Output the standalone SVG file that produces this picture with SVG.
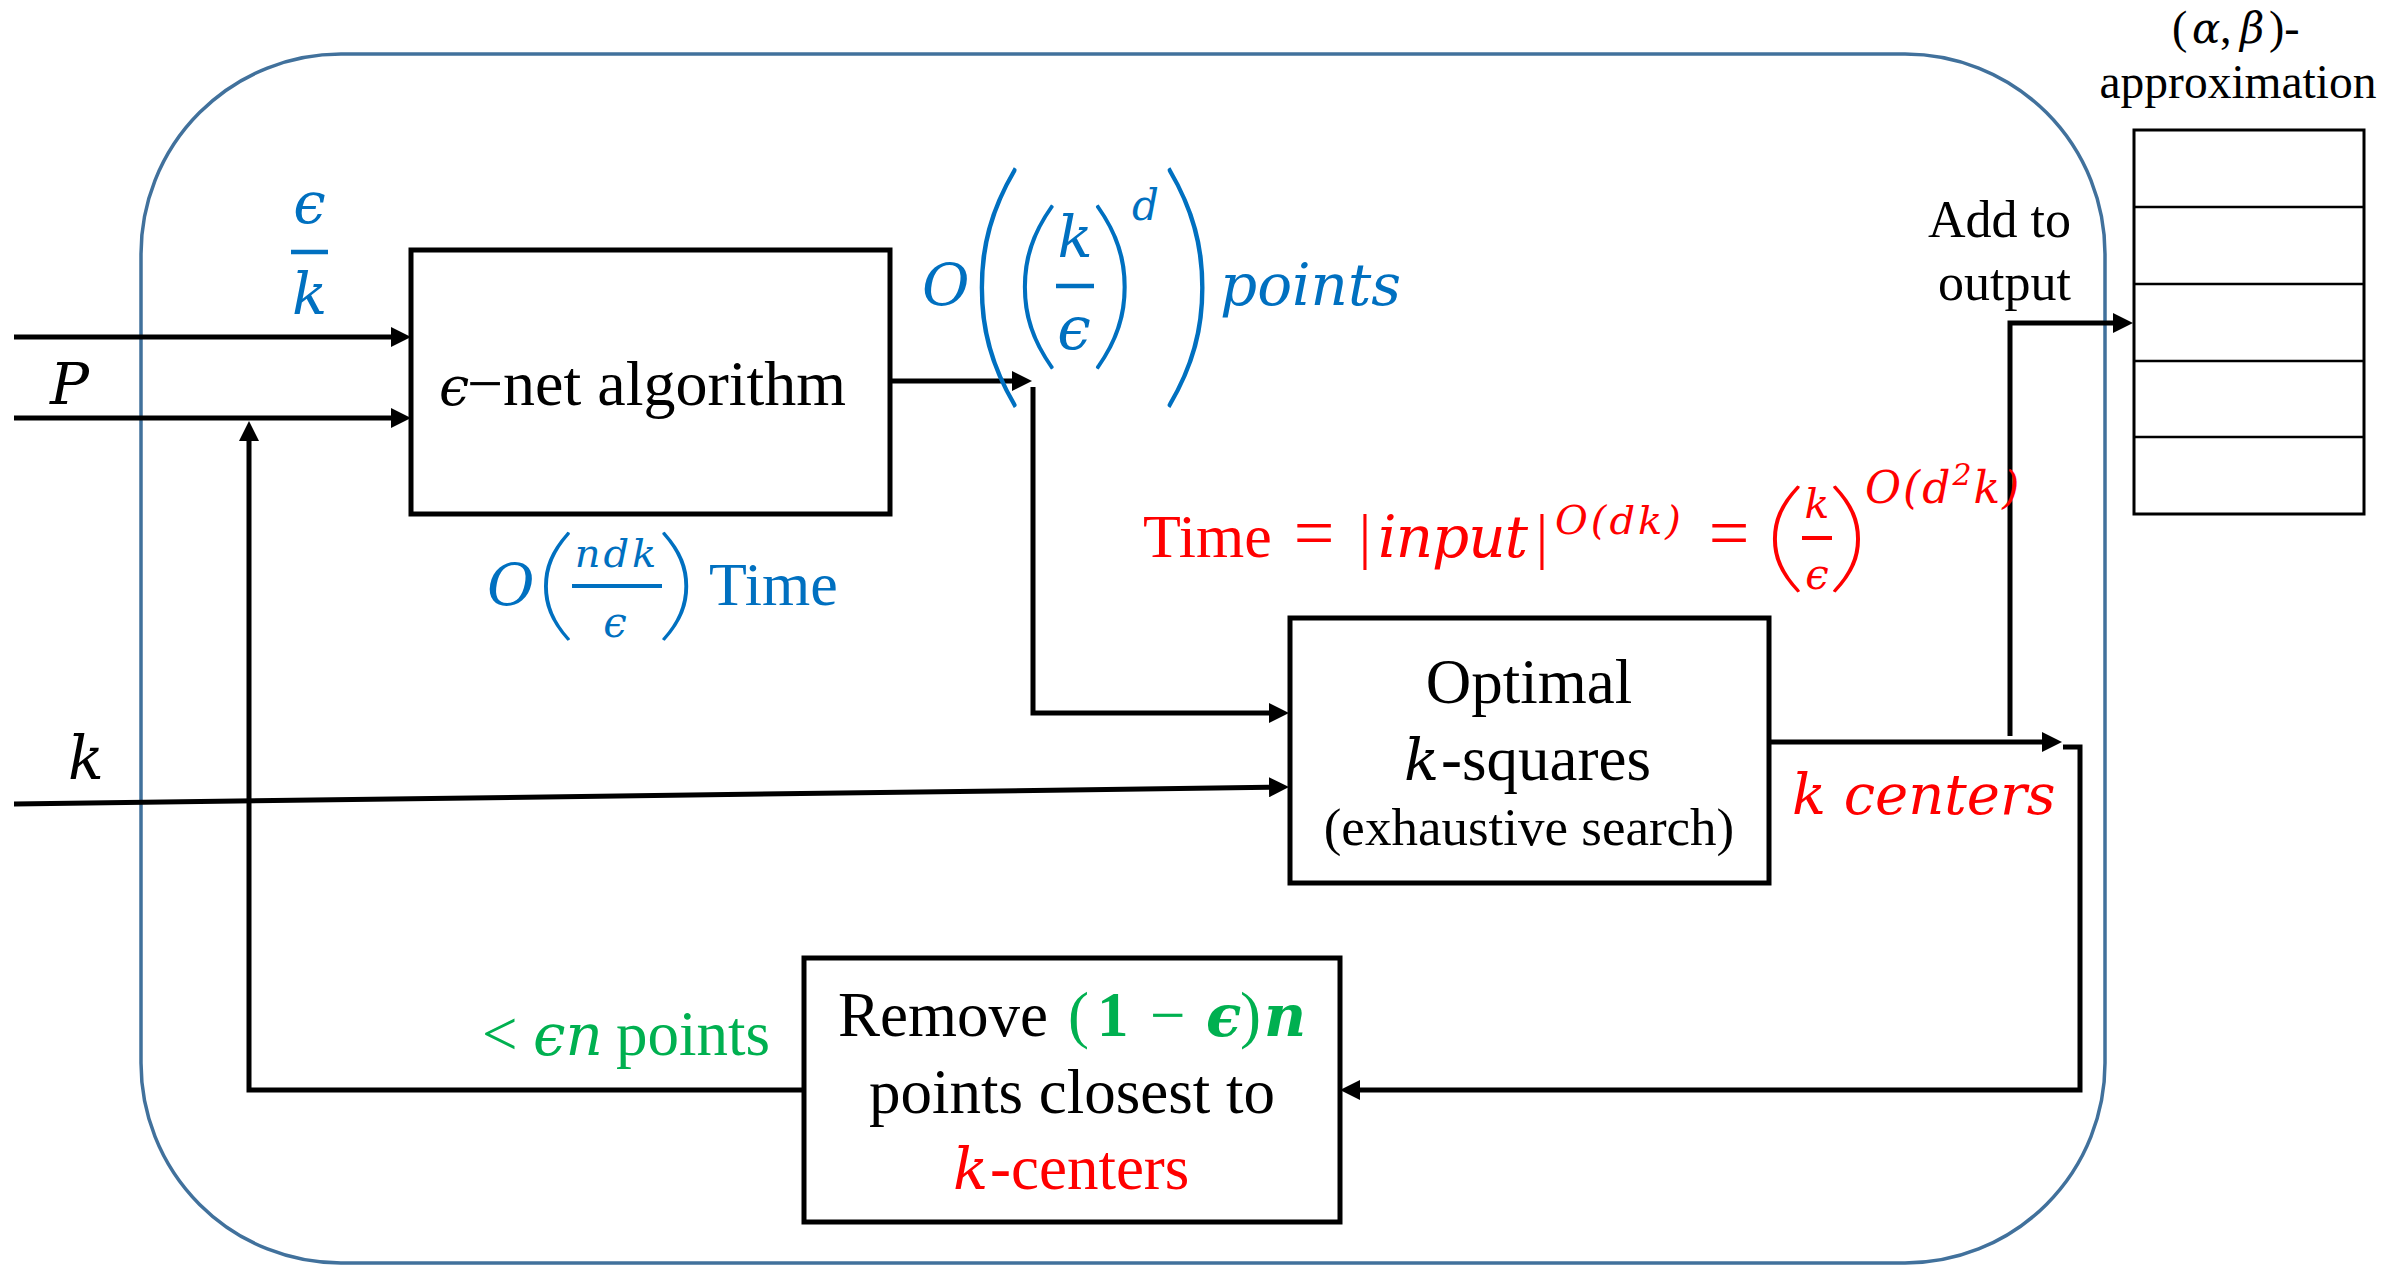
<svg xmlns="http://www.w3.org/2000/svg" width="2405" height="1265" viewBox="0 0 2405 1265">
<defs>
<style>
.box{fill:#fff;stroke:#000;stroke-width:5;stroke-linejoin:miter}
.conn{fill:none;stroke:#000;stroke-width:5;stroke-linejoin:miter;stroke-linecap:butt}
.cell{fill:#fff;stroke:#000;stroke-width:3}
.div{stroke:#000;stroke-width:2.5}
.bar{stroke-width:4.5}
.serif{font-family:"Liberation Serif","Times New Roman",serif}
.math{font-family:"DejaVu Serif","Liberation Serif",serif;font-style:italic}
.paren{font-family:"Lato","Liberation Serif",serif;font-weight:200;stroke-width:1.8;vector-effect:non-scaling-stroke}
.bold{font-weight:bold}
.blue{fill:#0070C0}
.red{fill:#FF0000}
.green{fill:#00B050}
.blk{fill:#000}
.paren.blue{stroke:#0070C0}
.paren.red{stroke:#FF0000}
</style>
<marker id="arrow" markerUnits="userSpaceOnUse" markerWidth="20" markerHeight="20" refX="0" refY="10" orient="auto" viewBox="0 0 20 20">
<path d="M0,0 L20,10 L0,20 z" fill="#000"/>
</marker>
</defs>
<rect width="2405" height="1265" fill="#fff"/>

<g id="container">
<rect x="141" y="54" width="1964" height="1209" rx="200" ry="200" fill="none" stroke="#41719C" stroke-width="3.5"/>
</g>

<g id="connectors">
<path class="conn" d="M14,337 H391" marker-end="url(#arrow)"/>
<path class="conn" d="M14,418 H391" marker-end="url(#arrow)"/>
<path class="conn" d="M14,804 L1269,787.3" marker-end="url(#arrow)"/>
<path class="conn" d="M890,381 H1012" marker-end="url(#arrow)"/>
<path class="conn" d="M1033,387 V713 H1269" marker-end="url(#arrow)"/>
<path class="conn" d="M1769,742 H2042" marker-end="url(#arrow)"/>
<path class="conn" d="M2010,736 V323 H2113" marker-end="url(#arrow)"/>
<path class="conn" d="M2063,747 H2080 V1090 H1360" marker-end="url(#arrow)"/>
<path class="conn" d="M804,1090 H249 V441" marker-end="url(#arrow)"/>
</g>

<g id="node-enet">
<rect class="box" x="411" y="250" width="479" height="264"/>
<text y="405"><tspan class="math blk" x="439" font-size="54">ϵ</tspan><tspan class="serif blk" x="467" font-size="64">−net algorithm</tspan></text>
</g>

<g id="node-optimal">
<rect class="box" x="1290" y="618" width="479" height="265"/>
<text class="serif blk" x="1529" y="703" font-size="63" text-anchor="middle">Optimal</text>
<text y="780"><tspan class="math blk" x="1404" font-size="58">k</tspan><tspan class="serif blk" x="1441" font-size="63">-squares</tspan></text>
<text class="serif blk" x="1529" y="845" font-size="53" text-anchor="middle">(exhaustive search)</text>
</g>

<g id="node-remove">
<rect class="box" x="804" y="958" width="536" height="264"/>
<text y="1036" font-size="63"><tspan class="serif blk" x="838">Remove </tspan><tspan class="serif green" x="1068">(</tspan><tspan class="serif green bold" x="1097">1</tspan><tspan class="serif green" x="1150">−</tspan><tspan class="math green bold" x="1206" font-size="58">ϵ</tspan><tspan class="serif green" x="1240">)</tspan><tspan class="math green bold" x="1264" font-size="58">n</tspan></text>
<text class="serif blk" x="1072" y="1113" font-size="63" text-anchor="middle">points closest to</text>
<text y="1189"><tspan class="math red" x="953" font-size="58">k</tspan><tspan class="serif red" x="990" font-size="63">-centers</tspan></text>
</g>

<g id="node-output">
<rect class="cell" x="2134" y="130" width="230" height="384"/>
<line class="div" x1="2134" y1="207" x2="2364" y2="207"/>
<line class="div" x1="2134" y1="284" x2="2364" y2="284"/>
<line class="div" x1="2134" y1="361" x2="2364" y2="361"/>
<line class="div" x1="2134" y1="437" x2="2364" y2="437"/>
<text y="43" font-size="46"><tspan class="serif blk" x="2172">(</tspan><tspan class="math blk" x="2192" font-size="42">α</tspan><tspan class="serif blk" x="2220">, </tspan><tspan class="math blk" x="2240" font-size="42">β</tspan><tspan class="serif blk" x="2269">)-</tspan></text>
<text class="serif blk" x="2238" y="98" font-size="48" text-anchor="middle" textLength="277" lengthAdjust="spacingAndGlyphs">approximation</text>
</g>

<g id="labels">
<text class="math blue" x="309.5" y="223" font-size="58" text-anchor="middle">ϵ</text>
<line class="bar" x1="291" y1="252" x2="328" y2="252" stroke="#0070C0"/>
<text class="math blue" x="309.5" y="314" font-size="58" text-anchor="middle">k</text>
<text class="math blk" x="50" y="404" font-size="58">P</text>
<text class="math blk" x="68" y="779" font-size="59">k</text>

<text class="math blue" x="922" y="305" font-size="58">O</text>
<text class="paren blue" transform="translate(965,374) scale(3.04,3.416)" font-size="80">(</text>
<text class="paren blue" transform="translate(1011,346.4) scale(3.33,3.12)" font-size="60">(</text>
<text class="math blue" x="1075" y="257" font-size="58" text-anchor="middle">k</text>
<line class="bar" x1="1056" y1="286" x2="1094" y2="286" stroke="#0070C0"/>
<text class="math blue" x="1074" y="349" font-size="60" text-anchor="middle">ϵ</text>
<text class="paren blue" transform="translate(1088.5,346.4) scale(3.33,3.12)" font-size="60">)</text>
<text class="math blue" x="1132" y="220" font-size="42">d</text>
<text class="paren blue" transform="translate(1158.3,374) scale(3.04,3.416)" font-size="80">)</text>
<text class="math blue" x="1220" y="305" font-size="58">points</text>

<text class="math blue" x="487" y="605" font-size="58">O</text>
<text class="paren blue" transform="translate(534.5,624.6) scale(3.29,2.442)" font-size="50">(</text>
<text class="math blue" x="617" y="567" font-size="40" text-anchor="middle" letter-spacing="3">ndk</text>
<line x1="572" y1="586" x2="662" y2="586" stroke="#0070C0" stroke-width="4"/>
<text class="math blue" x="615" y="637" font-size="42" text-anchor="middle">ϵ</text>
<text class="paren blue" transform="translate(656.4,624.6) scale(3.29,2.442)" font-size="50">)</text>
<text class="serif blue" x="709" y="605" font-size="62">Time</text>

<text class="serif red" x="1143" y="557" font-size="62">Time</text>
<text class="serif red" x="1314" y="557" font-size="72" text-anchor="middle">=</text>
<text class="serif red" x="1365" y="557" font-size="62" text-anchor="middle">|</text>
<text class="math red" x="1378" y="557" font-size="58" textLength="150" lengthAdjust="spacing">input</text>
<text class="serif red" x="1542" y="557" font-size="62" text-anchor="middle">|</text>
<text class="math red" x="1555" y="534" font-size="40" letter-spacing="3">O(dk)</text>
<text class="serif red" x="1729" y="557" font-size="72" text-anchor="middle">=</text>
<text class="paren red" transform="translate(1763,576.7) scale(3.43,2.419)" font-size="50">(</text>
<text class="math red" x="1817" y="518" font-size="41" text-anchor="middle">k</text>
<line x1="1802" y1="538" x2="1832" y2="538" stroke="#FF0000" stroke-width="4"/>
<text class="math red" x="1817" y="589" font-size="42" text-anchor="middle">ϵ</text>
<text class="paren red" transform="translate(1827.1,576.7) scale(3.43,2.419)" font-size="50">)</text>
<text class="math red" x="1865" y="503" font-size="44" letter-spacing="2">O(d<tspan font-size="30" dy="-18">2</tspan><tspan dy="18">k)</tspan></text>

<text class="math red" x="1792" y="814" font-size="56">k centers</text>

<text class="serif blk" x="2071" y="237" font-size="52" text-anchor="end">Add to</text>
<text class="serif blk" x="2071" y="300" font-size="52" text-anchor="end">output</text>

<text y="1055" font-size="63"><tspan class="serif green" x="482">&lt;</tspan><tspan class="math green" x="533" font-size="58">ϵn</tspan><tspan class="serif green" x="616">points</tspan></text>
</g>
</svg>
